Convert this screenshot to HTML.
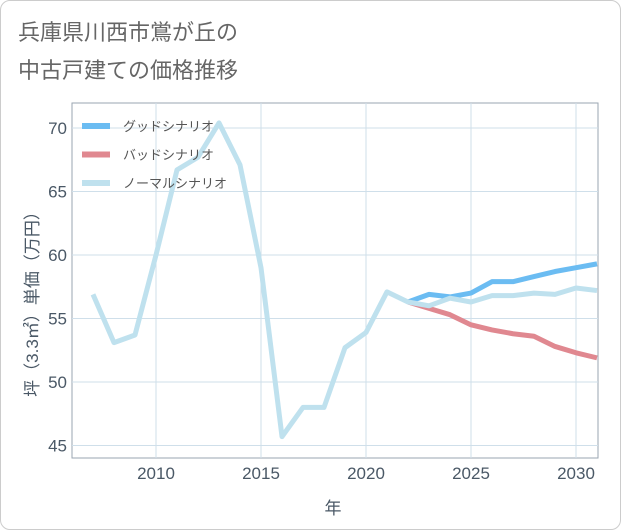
<!DOCTYPE html>
<html><head><meta charset="utf-8"><style>
body{margin:0;background:#fff;font-family:"Liberation Sans","Noto Sans CJK JP",sans-serif;}
#card{position:absolute;left:0;top:0;width:619px;height:528px;border:1px solid #ccc;border-radius:10px;background:#fff;}
</style></head><body>
<div id="card"></div>
<svg id="chart" width="621" height="530" style="position:absolute;left:0;top:0">
<text x="18" y="40" font-size="22" fill="#666">兵庫県川西市鴬が丘の</text>
<text x="18" y="78" font-size="22" fill="#666">中古戸建ての価格推移</text>
<g id="grid"></g><g id="lines"></g><g id="legend"></g>
<text x="333" y="514" font-size="17" fill="#4a5866" text-anchor="middle">年</text>
<text transform="translate(38,300) rotate(-90)" font-size="17" fill="#4a5866" text-anchor="middle">坪（3.3㎡）単価（万円）</text>
</svg>
<script>
const years=[2007,2008,2009,2010,2011,2012,2013,2014,2015,2016,2017,2018,2019,2020,2021,2022,2023,2024,2025,2026,2027,2028,2029,2030,2031];
const normal=[56.9,53.1,53.7,60,66.7,67.7,70.4,67.1,59,45.7,48,48,52.7,53.9,57.1,56.3,56,56.6,56.3,56.8,56.8,57,56.9,57.4,57.2];
const goodYears=[2022,2023,2024,2025,2026,2027,2028,2029,2030,2031];
const good=[56.3,56.9,56.7,57,57.9,57.9,58.3,58.7,59,59.3];
const bad=[56.3,55.8,55.3,54.5,54.1,53.8,53.6,52.8,52.3,51.9];
const xTicks=[2010,2015,2020,2025,2030];
const yTicks=[45,50,55,60,65,70];
const X=v=>156+(v-2010)*21, Y=v=>128+(70-v)*12.7;
const NS="http://www.w3.org/2000/svg";
function mk(t,a,p){const e=document.createElementNS(NS,t);for(const k in a)e.setAttribute(k,a[k]);p.appendChild(e);return e;}
const g=document.getElementById('grid');
const frame=mk('rect',{x:72,y:103,width:526,height:355,fill:'none',stroke:'#9aa5b1','stroke-width':1},g);


xTicks.forEach(t=>{
 const l=mk('line',{x1:X(t),x2:X(t),y1:103,y2:458,stroke:'#cfdfea'},g);
 
 
 const tx=mk('text',{x:X(t),y:479,'font-size':17,fill:'#4a5866','text-anchor':'middle'},g);tx.textContent=t;
 
 
});
yTicks.forEach(t=>{
 const l=mk('line',{x1:72,x2:598,y1:Y(t),y2:Y(t),stroke:'#cfdfea'},g);
 
 
 const tx=mk('text',{x:67,y:Y(t)+6,'font-size':17,fill:'#4a5866','text-anchor':'end'},g);tx.textContent=t;
 
 
});
const L=document.getElementById('lines');
function line(xs,ys,c,name){const p=mk('polyline',{points:xs.map((x,i)=>X(x)+','+Y(ys[i])).join(' '),fill:'none',stroke:c,'stroke-width':5,'stroke-linejoin':'round'},L);
 
 }
line(goodYears,good,'#6bbcf2','good-scenario-line');
line(goodYears,bad,'#e08890','bad-scenario-line');
line(years,normal,'#bfe1ee','normal-scenario-line');
const lg=document.getElementById('legend');
[['グッドシナリオ','#6bbcf2'],['バッドシナリオ','#e08890'],['ノーマルシナリオ','#bfe1ee']].forEach((d,i)=>{
 const y=126+i*28.5;
 const r=mk('rect',{x:82,y:y-3,width:28,height:6,fill:d[1]},lg);
 
 
 const t=mk('text',{x:123,y:y+5,'font-size':13,fill:'#555'},lg);t.textContent=d[0];
 
 
});
</script>
</body></html>
